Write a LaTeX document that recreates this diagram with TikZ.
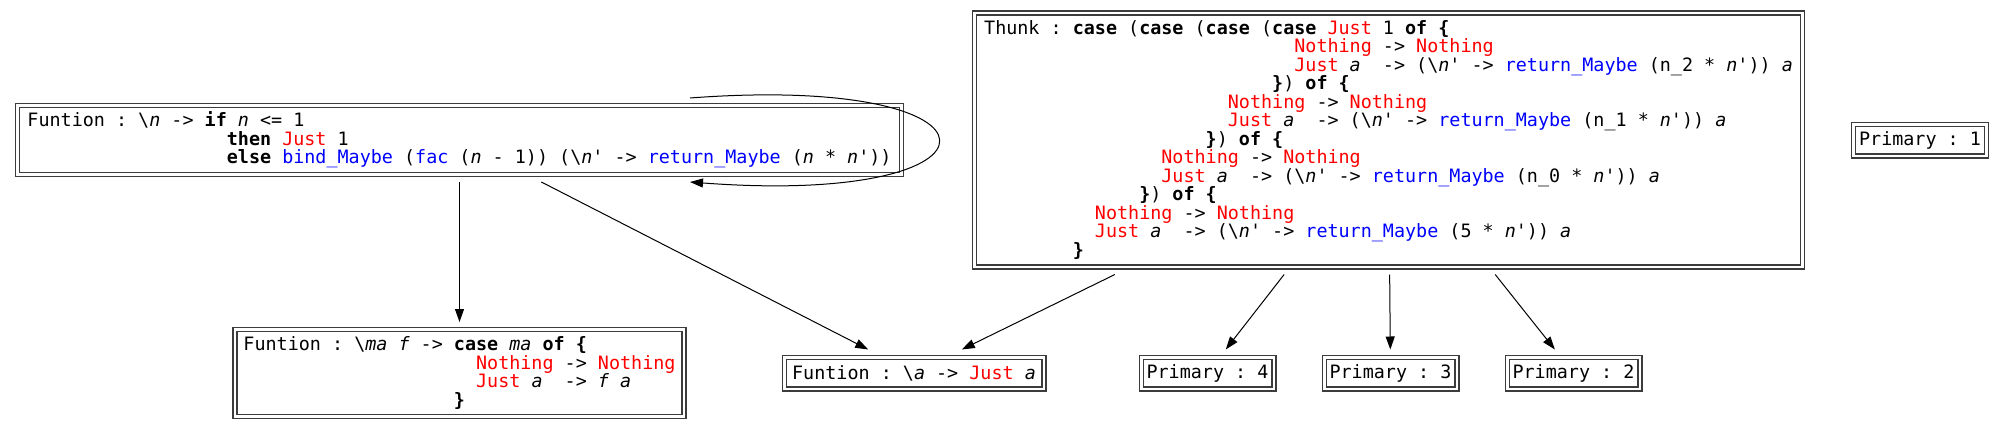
\documentclass[tikz,border=0pt]{standalone}
\usepackage{fontspec}
\setmonofont{DejaVu Sans Mono}
\usepackage{xcolor}
\definecolor{ctorred}{RGB}{255, 0, 0}
\definecolor{funblue}{RGB}{0, 0, 255}
\definecolor{framegray}{RGB}{60, 60, 60}
\usepackage{tikz}
\usetikzlibrary{arrows.meta,positioning}

\newcommand\codefont{\ttfamily\fontsize{9.2}{9.25}\selectfont\frenchspacing}
\newcommand\kw[1]{{\bfseries #1}}
\newcommand\ctor[1]{\textcolor{ctorred}{#1}}
\newcommand\hsfn[1]{\textcolor{funblue}{#1}}
\newcommand\hv[1]{{\itshape #1}}
\newcommand\pad[1]{\hspace*{#1\fontcharwd\font`0}}

\begin{document}
\begin{tikzpicture}[node distance=20pt, every node/.style={font=\codefont},
    exprbox/.style={rectangle, draw=framegray, line width=0.6pt, double, double distance=1.4pt, inner sep=0pt, outer sep=3.8pt, align=left},
    flow/.style={-{Triangle[length=6.5pt, width=4.5pt]}, line width=0.5pt}]
    % Top row
    \node[exprbox, minimum width=441.9pt, minimum height=34.4pt] (fac) {Funtion : \textbackslash\hv{n} -> \kw{if} \hv{n} <= 1\\
        \pad{18}\kw{then} \ctor{Just} 1\\
        \pad{18}\kw{else} \hsfn{bind\_Maybe} (\hsfn{fac} (\hv{n} - 1)) (\textbackslash\hv{n}' -> \hsfn{return\_Maybe} (\hv{n} * \hv{n}'))};
    \node[exprbox, minimum width=413.9pt, minimum height=126.9pt, right=29pt of fac] (thunk) {Thunk : \kw{case} (\kw{case} (\kw{case} (\kw{case} \ctor{Just} 1 \kw{of \{}\\
        \pad{28}\ctor{Nothing} -> \ctor{Nothing}\\
        \pad{28}\ctor{Just} \hv{a}~ -> (\textbackslash\hv{n}' -> \hsfn{return\_Maybe} (n\_2 * \hv{n}')) \hv{a}\\
        \pad{26}\kw{\}}) \kw{of \{}\\
        \pad{22}\ctor{Nothing} -> \ctor{Nothing}\\
        \pad{22}\ctor{Just} \hv{a}~ -> (\textbackslash\hv{n}' -> \hsfn{return\_Maybe} (n\_1 * \hv{n}')) \hv{a}\\
        \pad{20}\kw{\}}) \kw{of \{}\\
        \pad{16}\ctor{Nothing} -> \ctor{Nothing}\\
        \pad{16}\ctor{Just} \hv{a}~ -> (\textbackslash\hv{n}' -> \hsfn{return\_Maybe} (n\_0 * \hv{n}')) \hv{a}\\
        \pad{14}\kw{\}}) \kw{of \{}\\
        \pad{10}\ctor{Nothing} -> \ctor{Nothing}\\
        \pad{10}\ctor{Just} \hv{a}~ -> (\textbackslash\hv{n}' -> \hsfn{return\_Maybe} (5 * \hv{n}')) \hv{a}\\
        \pad{8}\kw{\}}};
    \node[exprbox, minimum width=66.4pt, minimum height=15.9pt, right=18pt of thunk] (prim1) {Primary : 1};

    % Bottom row
    \node[exprbox, minimum width=224.4pt, minimum height=43.4pt, below=70pt of fac] (bind) {Funtion : \textbackslash\hv{ma} \hv{f} -> \kw{case} \hv{ma} \kw{of \{}\\
        \pad{21}\ctor{Nothing} -> \ctor{Nothing}\\
        \pad{21}\ctor{Just} \hv{a}~ -> \hv{f} \hv{a}\\
        \pad{19}\kw{\}}};
    \node[exprbox, minimum width=129.9pt, minimum height=15.9pt, right=42.5pt of bind] (just) {Funtion : \textbackslash\hv{a} -> \ctor{Just} \hv{a}};
    \node[exprbox, minimum width=66.4pt, minimum height=15.9pt, right=41pt of just] (prim4) {Primary : 4};
    \node[exprbox, minimum width=66.4pt, minimum height=15.9pt, right=17.5pt of prim4] (prim3) {Primary : 3};
    \node[exprbox, minimum width=66.4pt, minimum height=15.9pt, right=17.5pt of prim3] (prim2) {Primary : 2};

    \useasboundingbox ([shift={(-229.75pt,70pt)}]fac.center) rectangle ([shift={(772.75pt,-144.5pt)}]fac.center);

    % Calls
    \draw[flow] (fac) -- (bind);
    \draw[flow] (fac) -- (just);
    \draw[flow] ([xshift=115.25pt]fac.north) .. controls +(165.4pt,12.5pt) and +(165.4pt,-12.5pt) .. ([xshift=115.25pt]fac.south);
    \draw[flow] (thunk) -- (just);
    \draw[flow] (thunk) -- (prim4);
    \draw[flow] (thunk) -- (prim3);
    \draw[flow] (thunk) -- (prim2);
\end{tikzpicture}
\end{document}
